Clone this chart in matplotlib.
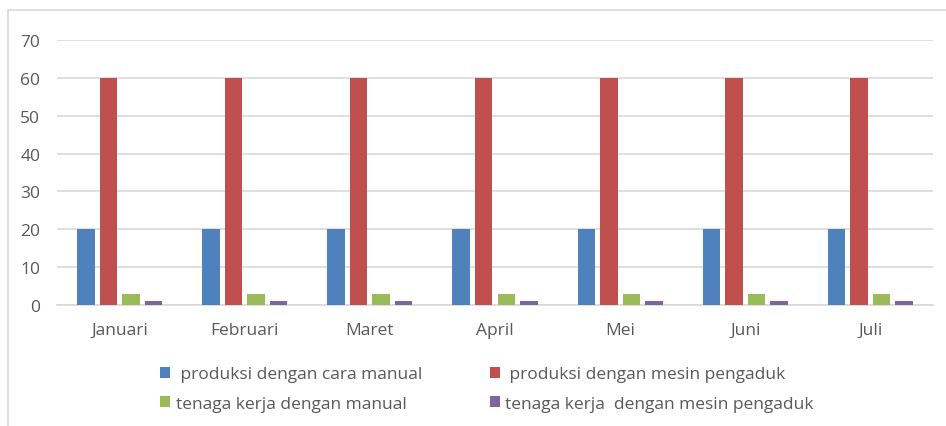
import numpy as np
import matplotlib.pyplot as plt
from matplotlib.patches import Rectangle

bulan = ['Januari', 'Februari', 'Maret', 'April', 'Mei', 'Juni', 'Juli']
produksi_manual = [20, 20, 20, 20, 20, 20, 20]
produksi_mesin = [60, 60, 60, 60, 60, 60, 60]
tenaga_manual = [3, 3, 3, 3, 3, 3, 3]
tenaga_mesin = [1, 1, 1, 1, 1, 1, 1]

labels = [' produksi dengan cara manual', ' produksi dengan mesin pengaduk',
          'tenaga kerja dengan manual', 'tenaga kerja  dengan mesin pengaduk']
colors = ['#4F81BD', '#C0504D', '#9BBB59', '#8064A2']

plt.rcParams['font.family'] = ['Open Sans', 'DejaVu Sans']
text_col = '#595959'

fig = plt.figure(figsize=(9.46, 4.27), dpi=100)
ax = fig.add_axes([57 / 946, 1 - 306 / 427, (933 - 57) / 946, (306 - 41) / 427])

# chart area border (cropped on right and bottom)
fig.patches.append(Rectangle((8 / 946, -0.1), 1.2, 1 - 11 / 427 + 0.1,
                             transform=fig.transFigure, fill=False,
                             edgecolor='#D9D9D9', linewidth=1.2))

x = np.arange(len(bulan))
series = [produksi_manual, produksi_mesin, tenaga_manual, tenaga_mesin]
step = 0.18
width = 0.14
for i, (vals, lab, c) in enumerate(zip(series, labels, colors)):
    ax.bar(x + (i - 1.5) * step, vals, width, color=c, label=lab, zorder=3)

ax.set_xlim(-0.5, len(bulan) - 0.5)
ax.set_ylim(0, 70)
ax.set_yticks(range(0, 71, 10))
ax.set_xticks(x)
ax.set_xticklabels(bulan)
ax.grid(axis='y', color='#D9D9D9', linewidth=1.2, zorder=0)
for s in ['top', 'right', 'left']:
    ax.spines[s].set_visible(False)
ax.spines['bottom'].set_color('#D9D9D9')
ax.spines['bottom'].set_linewidth(1.2)
ax.tick_params(length=0, colors=text_col, labelsize=12.5)
ax.tick_params(axis='x', pad=12)
ax.tick_params(axis='y', pad=12)

# legend fills column-wise, so reorder to get the row layout of the original
handles, labs = ax.get_legend_handles_labels()
order = [0, 2, 1, 3]
fig.legend([handles[k] for k in order], [labs[k] for k in order], ncol=2,
           loc='center', bbox_to_anchor=(0.5146, 1 - 390 / 427),
           frameon=False, fontsize=12.5, labelcolor=text_col,
           handlelength=0.6, handleheight=0.6, handletextpad=0.3,
           columnspacing=3.9, labelspacing=0.75)

fig.savefig('out.png', dpi=100)
